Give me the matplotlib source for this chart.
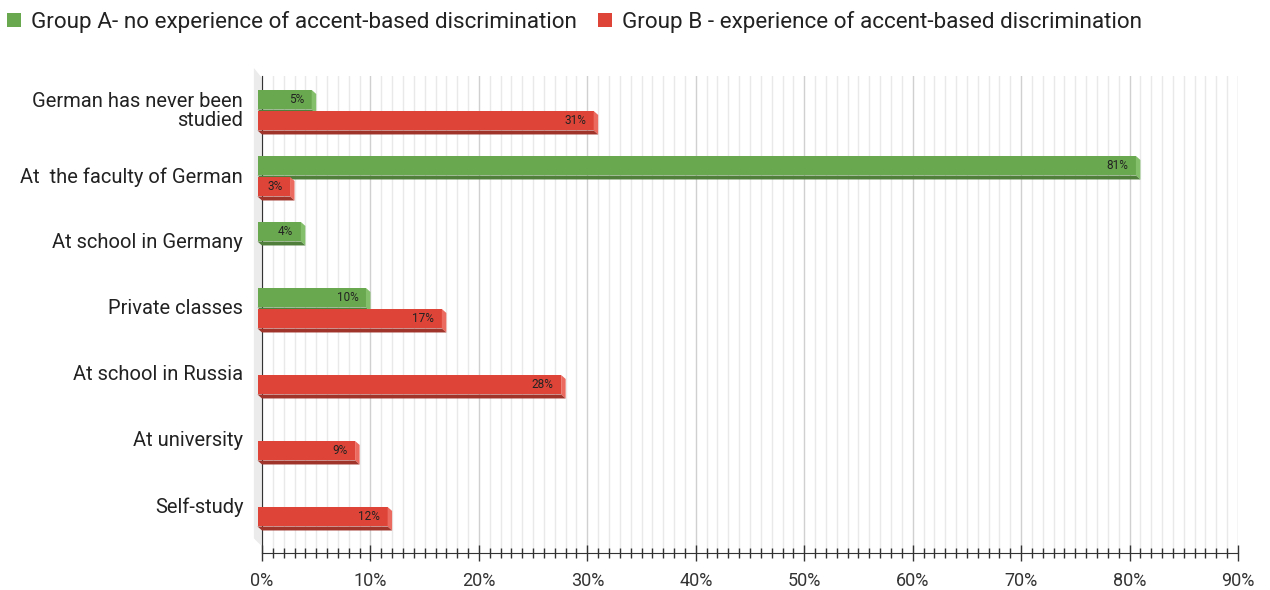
import matplotlib
matplotlib.use("Agg")
import matplotlib.pyplot as plt
import matplotlib.transforms as mtransforms
from matplotlib.patches import Polygon, Patch
from matplotlib.ticker import MultipleLocator, FuncFormatter

categories = ["German has never been\nstudied", "At  the faculty of German", "At school in Germany",
              "Private classes", "At school in Russia", "At university", "Self-study"]
group_a = [5, 81, 4, 10, 0, 0, 0]
group_b = [31, 3, 0, 17, 28, 9, 12]
series_names = ["Group A- no experience of accent-based discrimination",
                "Group B - experience of accent-based discrimination"]

plt.rcParams['font.family'] = ['Roboto', 'DejaVu Sans']

W, H = 1270, 590
fig = plt.figure(figsize=(W / 100, H / 100), dpi=100)
ax_l, ax_r, ax_t, ax_b = 262, 1238, 76, 553
ax = fig.add_axes([ax_l / W, 1 - ax_b / H, (ax_r - ax_l) / W, (ax_b - ax_t) / H])

xmax = 90
px_per_x = (ax_r - ax_l) / xmax
row_px = 66.0
top_off = 0.545
ylim_bottom = -top_off + (ax_b - ax_t) / row_px
ax.set_xlim(0, xmax)
ax.set_ylim(ylim_bottom, -top_off)

dx = 4.5 / px_per_x
dy = 4.0 / row_px
bh = 19.5 / row_px

styles = [
    dict(front="#6aa84f", bottom="#4f7f3b", side="#84bf6c"),
    dict(front="#de4538", bottom="#a1342a", side="#eb6b60"),
]
offsets = [-22.0 / row_px, -1.0 / row_px]

# left wall
wall = Polygon([(-dx * 1.8, -top_off - dy * 2), (0, -top_off + dy * 0.5), (0, ylim_bottom - 0.1),
                (-dx * 1.8, ylim_bottom - 0.1 - dy * 2)], closed=True, facecolor="#ebebeb",
               edgecolor="none", clip_on=False, zorder=0.5)
ax.add_patch(wall)

for vals, st, off in zip([group_a, group_b], styles, offsets):
    ys = [i + off for i in range(len(vals))]
    shown = [(y, v) for y, v in zip(ys, vals) if v > 0]
    ax.barh([y for y, v in shown], [v for y, v in shown], height=bh,
            left=-dx, align='edge', color=st["front"], zorder=3, clip_on=False)
    for y, v in shown:
        top, bot = y, y + bh
        side = Polygon([(v - dx, top), (v, top + dy), (v, bot + dy), (v - dx, bot)],
                       closed=True, facecolor=st["side"], edgecolor="none", zorder=3, clip_on=False)
        under = Polygon([(-dx, bot), (v - dx, bot), (v, bot + dy), (0, bot + dy)],
                        closed=True, facecolor=st["bottom"], edgecolor="none", zorder=3, clip_on=False)
        ax.add_patch(side)
        ax.add_patch(under)
        ax.text(v - dx - 0.7, top + bh / 2, f"{v}%", ha="right", va="center",
                fontsize=8.5, color="#222222", zorder=4)

# grid
ax.xaxis.set_major_locator(MultipleLocator(10))
ax.xaxis.set_minor_locator(MultipleLocator(1))
ax.grid(which="minor", axis="x", color="#e9e9e9", linewidth=1.0, zorder=0)
ax.grid(which="major", axis="x", color="#d0d0d0", linewidth=1.0, zorder=0)
ax.xaxis.set_major_formatter(FuncFormatter(lambda v, p: f"{int(round(v))}%"))
ax.tick_params(axis="x", which="major", direction="inout", length=12, width=1,
               color="#333333", labelsize=13, labelcolor="#333333", pad=8)
ax.tick_params(axis="x", which="minor", direction="inout", length=7, width=1, color="#333333")

ax.set_yticks(range(len(categories)))
ax.set_yticklabels(categories, fontsize=14.5, color="#222222", linespacing=1.0)
ax.tick_params(axis="y", length=0, pad=13.5)
shift = mtransforms.ScaledTranslation(0, 3 / 100, fig.dpi_scale_trans)
for lbl in ax.get_yticklabels():
    lbl.set_transform(lbl.get_transform() + shift)

for s in ["top", "right"]:
    ax.spines[s].set_visible(False)
ax.spines["bottom"].set_color("#333333")
ax.spines["left"].set_color("#333333")
ax.spines["bottom"].set_zorder(5)
ax.set_axisbelow(True)

handles = [Patch(facecolor=styles[0]["front"]), Patch(facecolor=styles[1]["front"])]
fig.legend(handles, series_names, loc="upper left", bbox_to_anchor=(-0.003, 1.0),
           borderaxespad=0.3, borderpad=0.2,
           ncol=2, frameon=False, fontsize=16.2, handlelength=0.6, handleheight=0.6,
           handletextpad=0.45, columnspacing=0.95, labelcolor="#222222")

fig.savefig("out.png", dpi=100)
